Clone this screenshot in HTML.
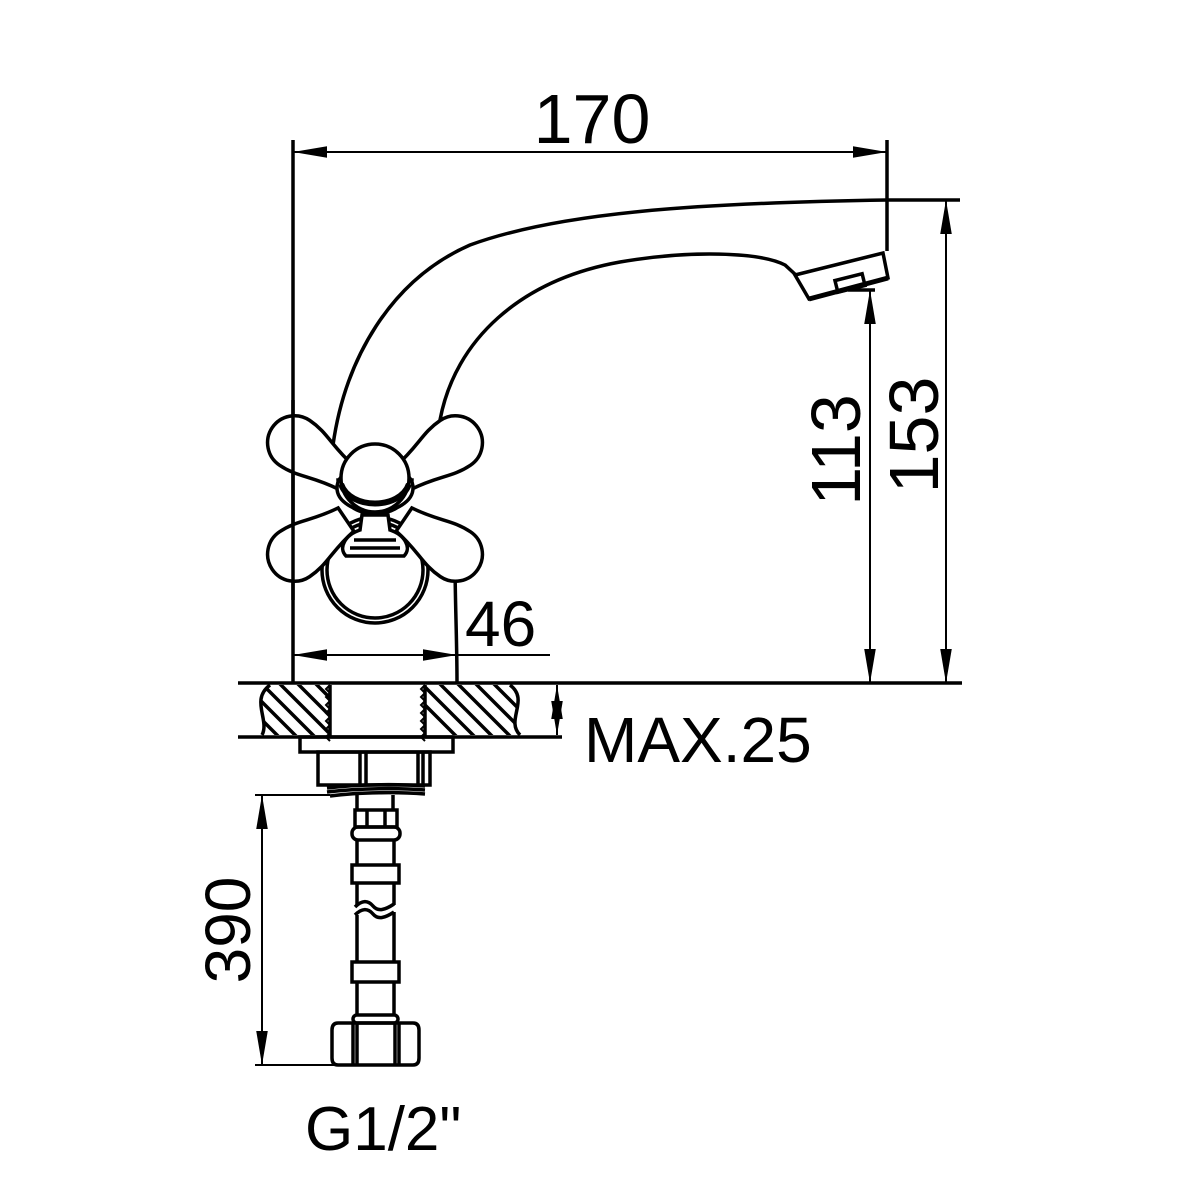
<!DOCTYPE html>
<html><head><style>html,body{margin:0;padding:0;background:#fff}svg{display:block}</style></head>
<body>
<svg width="1200" height="1200" viewBox="0 0 1200 1200" xmlns="http://www.w3.org/2000/svg">
<defs>
<marker id="b" viewBox="0 0 10 10" refX="10" refY="5" markerWidth="34" markerHeight="34" markerUnits="userSpaceOnUse" orient="auto-start-reverse"><path d="M0,3.3 L10,5 L0,6.7Z" fill="#000"/></marker>
<clipPath id="lh"><path d="M270,685 C250,700 270,720 262,735 L330,735 L330,685Z"/></clipPath>
<clipPath id="rh"><path d="M425,685 L510,685 C530,700 505,720 520,735 L425,735Z"/></clipPath>
<path id="arm" d="M0,-14 C30,-18 40,-27 62,-27 A27,27 0 0 1 62,27 C40,27 30,18 0,14 Z"/>
</defs>
<g fill="none" stroke="#000" stroke-width="3.5">
<line x1="293" y1="140" x2="293" y2="683"/>
<line x1="887" y1="140" x2="887" y2="251"/>
<line x1="293" y1="152" x2="887" y2="152" stroke-width="2" marker-start="url(#b)" marker-end="url(#b)"/>
<path d="M333,445 C345,360 390,280 470,245 C560,212 700,203 887,200 L960,200"/>
<path d="M440,420 C455,340 520,280 620,262 C690,250 760,252 785,265 L797,276"/>
<path d="M795,275 L883,253 L888,278 L809,299 Z"/>
<path d="M809,299 L888,278" stroke-width="5"/>
<rect x="836" y="277" width="28" height="12" transform="rotate(-14 850 283)"/>
<line x1="848" y1="290" x2="875" y2="290"/>
<line x1="870" y1="290" x2="870" y2="683" stroke-width="2" marker-start="url(#b)" marker-end="url(#b)"/>
<line x1="946" y1="200" x2="946" y2="683" stroke-width="2" marker-start="url(#b)" marker-end="url(#b)"/>
<path d="M455,560 C455,600 457,640 457,683"/>
<line x1="238" y1="683" x2="962" y2="683"/>
<line x1="238" y1="737" x2="562" y2="737"/>
<line x1="293" y1="655" x2="550" y2="655" stroke-width="2" marker-start="url(#b)"/>
<line x1="293" y1="655" x2="457" y2="655" stroke-width="2" marker-end="url(#b)"/>
<line x1="557" y1="685" x2="557" y2="735" stroke-width="2" marker-start="url(#b)" marker-end="url(#b)"/>
<circle cx="375" cy="570" r="53"/><circle cx="375" cy="570" r="48"/>
</g>
<g fill="#fff" stroke="#000" stroke-width="3.5">
<use href="#arm" transform="translate(375,497) rotate(214) translate(35,0)"/>
<use href="#arm" transform="translate(375,497) rotate(326) translate(35,0)"/>
<use href="#arm" transform="translate(375,500) rotate(146) translate(35,0)"/>
<use href="#arm" transform="translate(375,500) rotate(34) translate(35,0)"/>
</g>
<line x1="293" y1="400" x2="293" y2="600" stroke="#000" stroke-width="3.5"/>
<g fill="#fff" stroke="#000" stroke-width="3.5">
<path d="M362,515 L388,515 L390,530 C405,535 412,548 404,556 L346,556 C338,548 345,535 360,530Z"/>
<path d="M350,548 L400,548 M354,540 L396,540" fill="none"/>
<path d="M338,480 C338,525 412,525 412,480 Z"/>
<ellipse cx="375" cy="488" rx="38" ry="24"/>
<circle cx="375" cy="478" r="34"/>
<path d="M341,484 C350,510 400,510 409,484" fill="none" stroke-width="6"/>
</g>
<g stroke="#000" stroke-width="3.5" fill="none">
<path d="M270,685 C250,700 270,720 262,735"/>
<path d="M510,685 C530,700 505,720 520,735"/>
<g clip-path="url(#lh)"><path d="M240,680l60,60M258,680l60,60M276,680l60,60M294,680l60,60M312,680l60,60M222,680l60,60"/></g>
<g clip-path="url(#rh)"><path d="M400,680l60,60M418,680l60,60M436,680l60,60M454,680l60,60M472,680l60,60M490,680l60,60M508,680l60,60"/></g>
<path d="M330,685 l-4,4 l4,4 l-4,4 l4,4 l-4,4 l4,4 l-4,4 l4,4 l-4,4 l4,4 l-4,4 l4,4 l-4,4 l4,4" stroke-width="2"/>
<path d="M425,685 l-4,4 l4,4 l-4,4 l4,4 l-4,4 l4,4 l-4,4 l4,4 l-4,4 l4,4 l-4,4 l4,4 l-4,4 l4,4" stroke-width="2"/>
<line x1="330" y1="685" x2="330" y2="737"/><line x1="425" y1="685" x2="425" y2="737"/>
<rect x="300" y="737" width="153" height="15"/>
<rect x="318" y="752" width="112" height="33"/>
<path d="M360,752V785M366,752V785M418,752V785M423,752V785"/>
<path d="M327,788 C360,784 400,784 425,786 M327,792 C360,788 400,788 425,790 M330,796 C360,792 400,792 425,794"/>
<line x1="357" y1="795" x2="357" y2="810"/><line x1="393" y1="795" x2="393" y2="810"/>
<rect x="355" y="810" width="42" height="17"/><path d="M367,810V827M385,810V827"/>
<rect x="352" y="827" width="48" height="13" rx="6"/>
<path d="M357,840V865M394,840V865"/>
<rect x="352" y="865" width="47" height="18"/>
<path d="M357,883V905M394,883V905"/>
<path d="M355,907 C362,900 368,900 373,906 C378,912 385,910 394,904"/>
<path d="M355,915 C362,908 368,908 373,914 C378,920 385,918 394,912"/>
<path d="M357,915V962M394,912V962"/>
<rect x="352" y="962" width="47" height="20"/>
<path d="M357,982V1015M394,982V1015"/>
<rect x="353" y="1015" width="45" height="8" rx="4"/>
<path d="M338,1023 L413,1023 Q419,1023 419,1030 L419,1058 Q419,1065 413,1065 L338,1065 Q332,1065 332,1058 L332,1030 Q332,1023 338,1023Z"/>
<path d="M353,1023V1065M357,1023V1065M395,1023V1065M399,1023V1065"/>
<line x1="255" y1="795" x2="330" y2="795" stroke-width="2"/>
<line x1="255" y1="1065" x2="335" y2="1065" stroke-width="2"/>
<line x1="262" y1="795" x2="262" y2="1065" stroke-width="2" marker-start="url(#b)" marker-end="url(#b)"/>
</g>
<g font-family="Liberation Sans, sans-serif" fill="#000">
<text x="592" y="143" font-size="70" text-anchor="middle">170</text>
<text x="0" y="0" font-size="70" text-anchor="middle" transform="translate(860,450) rotate(-90)">113</text>
<text x="0" y="0" font-size="70" text-anchor="middle" transform="translate(938,435) rotate(-90)">153</text>
<text x="465" y="646" font-size="64">46</text>
<text x="584" y="762" font-size="64">MAX.25</text>
<text x="0" y="0" font-size="64" text-anchor="middle" transform="translate(250,930) rotate(-90)">390</text>
<text x="305" y="1150" font-size="62">G1/2"</text>
</g>
</svg>
</body></html>
